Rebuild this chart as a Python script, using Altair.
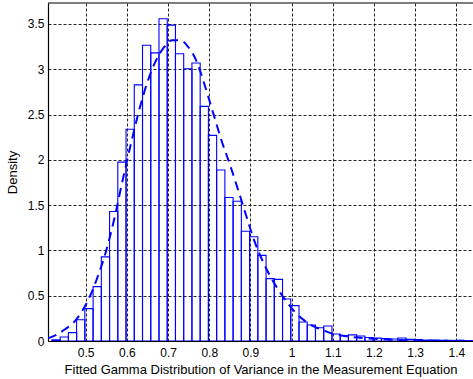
import altair as alt
import pandas as pd

# Histogram of the sampled variance: bins of width 0.02 starting at 0.418
bin_start = 0.418
bin_width = 0.02
density = [
    0.012, 0.044, 0.092, 0.235, 0.357, 0.600, 0.929, 1.430, 1.974, 2.338,
    2.827, 3.265, 3.181, 3.557, 3.487, 3.170, 3.006, 3.068, 2.590, 2.270,
    1.887, 1.584, 1.542, 1.211, 1.150, 0.945, 0.688, 0.680, 0.464, 0.390,
    0.209, 0.176, 0.147, 0.165, 0.078, 0.060, 0.068, 0.055, 0.038, 0.032,
    0.026, 0.022, 0.033, 0.018, 0.015, 0.010, 0.010, 0.008, 0.005, 0.008,
    0.004, 0.003,
]

# Fitted gamma density
fit_x = [0.4085, 0.43, 0.45, 0.47, 0.49, 0.51, 0.53, 0.55, 0.57, 0.59,
         0.61, 0.63, 0.65, 0.67, 0.69, 0.71, 0.73, 0.75, 0.77, 0.79,
         0.81, 0.83, 0.85, 0.87, 0.89, 0.91, 0.93, 0.95, 0.97, 0.99,
         1.01, 1.03, 1.05, 1.07, 1.09, 1.11, 1.14, 1.18, 1.22, 1.26,
         1.30, 1.35, 1.40, 1.4405]
fit_y = [0.03, 0.07, 0.13, 0.20, 0.32, 0.49, 0.72, 1.00, 1.36, 1.78,
         2.18, 2.55, 2.86, 3.09, 3.24, 3.32, 3.32, 3.24, 3.08, 2.81,
         2.51, 2.21, 1.95, 1.67, 1.38, 1.10, 0.88, 0.70, 0.55, 0.42,
         0.31, 0.23, 0.17, 0.13, 0.095, 0.07, 0.047, 0.03, 0.019, 0.011,
         0.006, 0.003, 0.0015, 0.001]

x_ticks = [0.5, 0.6, 0.7, 0.8, 0.9, 1.0, 1.1, 1.2, 1.3, 1.4]
y_ticks = [0, 0.5, 1, 1.5, 2, 2.5, 3, 3.5]

x_domain = [0.4085, 1.4405]
y_domain = [0, 3.731]
W, H = 425, 338
FONT = "Liberation Sans"
BLUE = "#0000ff"

bars = pd.DataFrame({
    "lo": [bin_start + i * bin_width for i in range(len(density))],
    "hi": [bin_start + (i + 1) * bin_width for i in range(len(density))],
    "density": density,
})
fit = pd.DataFrame({"x": fit_x, "y": fit_y})

x_scale = alt.Scale(domain=x_domain, nice=False, zero=False)
y_scale = alt.Scale(domain=y_domain, nice=False, zero=False)

x_axis = alt.Axis(
    values=x_ticks, format="~g", ticks=False, labelPadding=6,
    domainColor="black", domainWidth=1.2,
    grid=True, gridDash=[3, 2], gridColor="black", gridOpacity=0.85, gridWidth=1,
    labelFont=FONT, labelFontSize=12, labelColor="black",
    title="Fitted Gamma Distribution of Variance in the Measurement Equation",
    titleFont=FONT, titleFontSize=13, titleFontWeight="normal", titleColor="black",
    titleX=W / 2, titleY=32, titleBaseline="alphabetic", titleAlign="center",
)
y_axis = alt.Axis(
    values=y_ticks, format="~g", ticks=False, labelPadding=4,
    domainColor="black", domainWidth=1.2,
    grid=True, gridDash=[3, 2], gridColor="black", gridOpacity=0.85, gridWidth=1,
    labelFont=FONT, labelFontSize=12, labelColor="black",
    title="Density",
    titleFont=FONT, titleFontSize=13, titleFontWeight="normal", titleColor="black",
    titleX=-32, titleY=H / 2, titleAngle=270, titleBaseline="alphabetic",
    titleAlign="center",
)

hist = alt.Chart(bars).mark_rect(
    fill="white", fillOpacity=0, stroke=BLUE, strokeWidth=1.1, clip=True
).encode(
    x=alt.X("lo:Q", scale=x_scale, axis=x_axis),
    x2="hi:Q",
    y=alt.Y("density:Q", scale=y_scale, axis=y_axis),
    y2=alt.datum(0),
)

curve = alt.Chart(fit).mark_line(
    color=BLUE, strokeWidth=2, strokeDash=[9, 6], interpolate="monotone", clip=True
).encode(
    x=alt.X("x:Q", scale=x_scale),
    y=alt.Y("y:Q", scale=y_scale),
)

# top frame line of the axes box
top_frame = alt.Chart(pd.DataFrame({"a": [0]})).mark_rule(
    color="black", strokeWidth=1.2
).encode(y=alt.value(0), x=alt.value(0), x2=alt.value(W))

chart = alt.layer(hist, curve, top_frame).properties(
    width=W, height=H,
    autosize=alt.AutoSizeParams(type="none"),
    padding={"left": 48, "top": 3, "right": 0, "bottom": 38},
    background="white",
).configure_view(stroke=None)

chart.save("out.html", embed_options={"renderer": "svg", "actions": False})
